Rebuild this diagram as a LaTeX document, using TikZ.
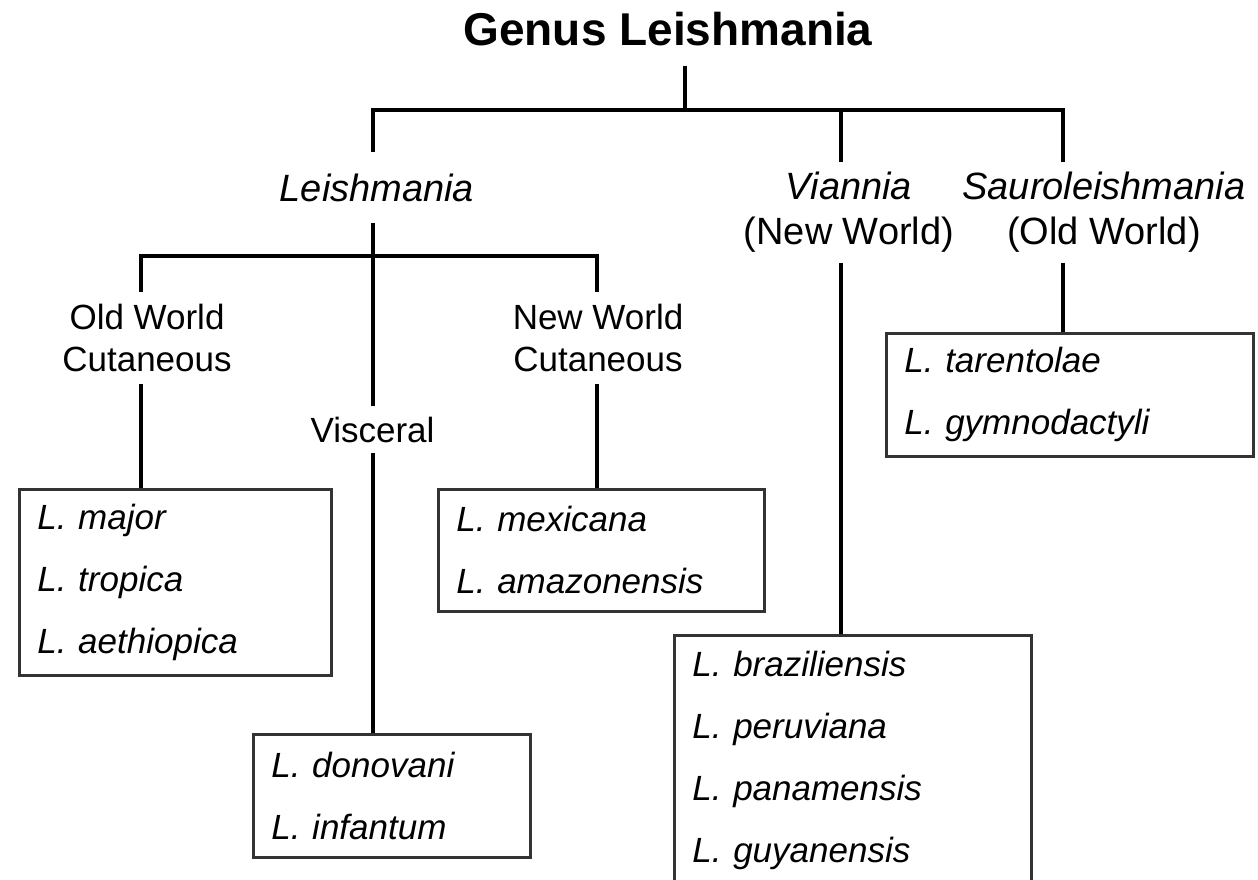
\documentclass[tikz,border=0pt]{standalone}
\usepackage{fontspec}
\setmainfont{Liberation Sans}
\usetikzlibrary{positioning}
\newcommand{\genfont}{\fontsize{46}{55}\selectfont\bfseries}
\newcommand{\subfont}{\fontsize{38}{45}\selectfont}
\newcommand{\grpfont}{\fontsize{35}{42}\selectfont}
\newcommand{\sppfont}{\fontsize{35}{62}\selectfont\itshape}
\frenchspacing

\begin{document}
\begin{tikzpicture}[x=1pt,y=-1pt,
	br/.style={line width=4.5pt,black},
	lab/.style={align=center,inner sep=12pt,font=\grpfont},
	box/.style={draw=black!80,line width=2.8pt,anchor=north west,align=left,
		inner xsep=18pt,inner ysep=0pt,font=\sppfont}]
	\useasboundingbox (0,0) rectangle (1258,879);
	\clip (0,0) rectangle (1258,879);
	
	\node[font=\genfont,inner sep=20pt,anchor=base] (genus) at (668,45){Genus Leishmania};
	
	% subgenera
	\node[lab,font=\subfont,inner sep=21pt,anchor=base] (leish) at (377,201){\textit{Leishmania}};
	\node[lab,font=\subfont,inner sep=10pt] (via) at (849,212.5){\textit{Viannia}\\(New World)};
	\node[lab,font=\subfont,inner sep=10pt] (sau) at (1104,212.5){\textit{Sauroleishmania}\\(Old World)};
	
	\coordinate (j0) at (685,110);
	\coordinate (jL) at (373,110);
	\coordinate (jV) at (841,110);
	\coordinate (jS) at (1063,110);
	\draw[br] (genus.south -| j0)--(j0);
	\draw[br] (leish.north -| jL)--(jL)--(jS)--(sau.north -| jS);
	\draw[br] (jV)--(via.north -| jV);
	
	% groups of Leishmania
	\coordinate (kA) at (141,256);
	\coordinate (kB) at (597,256);
	\node[lab] (owc) at (147,338){Old World\\Cutaneous};
	\node[lab] (nwc) at (598,338){New World\\Cutaneous};
	\node[lab,inner sep=10pt,anchor=base] (vis) at (372.5,442){Visceral};
	
	% species
	\node[box,text width=276pt,minimum height=186pt] (bow) at (18,488){L. major\\L. tropica\\L. aethiopica};
	\node[box,text width=241pt,minimum height=123pt] (bvis) at (252,733){L. donovani\\L. infantum};
	\node[box,text width=290pt,minimum height=122pt] (bnw) at (437,488){L. mexicana\\L. amazonensis};
	\node[box,text width=321pt,minimum height=250pt] (bvia) at (673,634){L. braziliensis\\L. peruviana\\L. panamensis\\L. guyanensis};
	\node[box,text width=331pt,minimum height=123pt] (bsau) at (885,332){L. tarentolae\\L. gymnodactyli};
	
	\draw[br] (owc.north -| kA)--(kA)--(kB)--(nwc.north -| kB);
	\draw[br] (owc.south -| kA)--(bow.north -| kA);
	\draw[br] (nwc.south -| kB)--(bnw.north -| kB);
	\draw[br] (leish.south -| jL)--(vis.north -| jL);
	\draw[br] (vis.south -| jL)--(bvis.north -| jL);
	\draw[br] (via.south -| jV)--(bvia.north -| jV);
	\draw[br] (sau.south -| jS)--(bsau.north -| jS);
\end{tikzpicture}
\end{document}
